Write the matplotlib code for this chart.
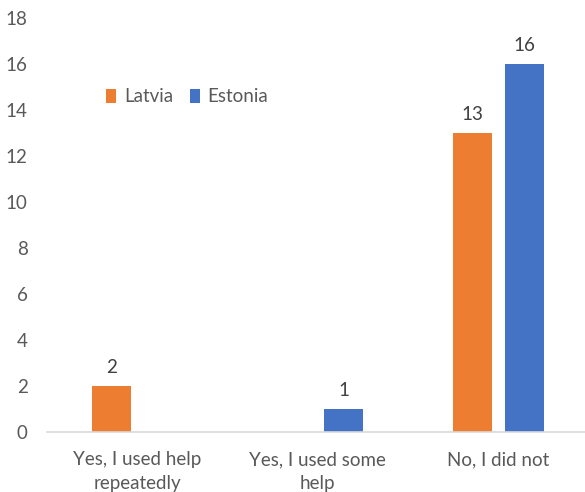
import matplotlib
matplotlib.use("Agg")
import matplotlib.pyplot as plt
import numpy as np

categories = ["Yes, I used help\nrepeatedly", "Yes, I used some\nhelp", "No, I did not"]
latvia = [2, 0, 13]
estonia = [0, 1, 16]
series_names = ["Latvia", "Estonia"]
colors = ["#ED7D31", "#4472C4"]
yticks = [0, 2, 4, 6, 8, 10, 12, 14, 16, 18]

plt.rcParams["font.family"] = ["Lato", "DejaVu Sans"]
text_color = "#595959"
fs = 13.5

W, H = 585, 492
fig = plt.figure(figsize=(W / 100, H / 100), dpi=100)
ax = fig.add_axes([47 / W, 1 - 432 / H, 541.5 / W, (432 - 18) / H])

x = np.arange(len(categories))
width = 39 / 180.5
offset = 26 / 180.5

for vals, name, col, sgn in [(latvia, series_names[0], colors[0], -1),
                             (estonia, series_names[1], colors[1], 1)]:
    bars = ax.bar(x + sgn * offset, vals, width, color=col, label=name)
    for b, v in zip(bars, vals):
        if v:
            ax.text(b.get_x() + b.get_width() / 2, v + 0.45, str(v),
                    ha="center", va="bottom", fontsize=fs, color="#404040")

ax.set_xlim(-0.5, 2.5)
ax.set_ylim(0, 18)
ax.set_yticks(yticks)
ax.set_xticks(x)
ax.set_xticklabels(categories, fontsize=fs, color=text_color, linespacing=1.5)
ax.tick_params(axis="y", labelsize=fs, labelcolor=text_color, length=0, pad=14)
ax.tick_params(axis="x", length=0, pad=14)
for s in ["top", "right", "left"]:
    ax.spines[s].set_visible(False)
ax.spines["bottom"].set_color("#D9D9D9")
ax.spines["bottom"].set_linewidth(1.2)

leg = ax.legend(loc="upper left", bbox_to_anchor=(0.095, 0.848), ncol=2, frameon=False,
                fontsize=fs, handlelength=0.55, handleheight=0.75, handletextpad=0.4,
                columnspacing=0.9, borderaxespad=0)
for t in leg.get_texts():
    t.set_color(text_color)

fig.savefig("out.png", dpi=100)
